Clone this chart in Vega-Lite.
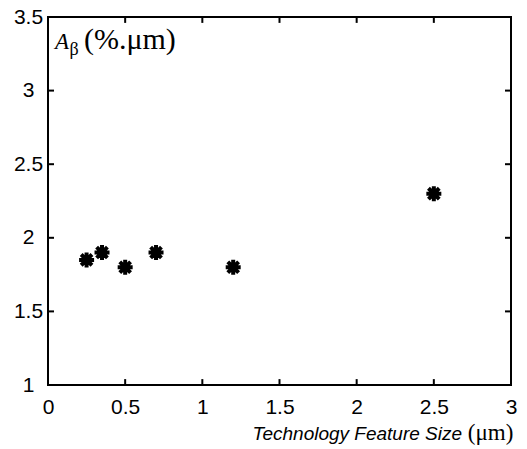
{
  "$schema": "https://vega.github.io/schema/vega-lite/v6.json",
  "width": 463,
  "height": 368,
  "autosize": {"type": "none"},
  "padding": {"left": 48, "top": 17, "right": 16, "bottom": 64},
  "background": "white",
  "config": {
    "view": {"stroke": "black", "strokeWidth": 2},
    "axis": {"grid": false, "domain": false, "ticks": false, "labelColor": "black", "labelFont": "Liberation Sans", "labelFontSize": 21, "title": null}
  },
  "datasets": {
    "pts": [
      {"size": 0.25, "a": 1.85},
      {"size": 0.35, "a": 1.9},
      {"size": 0.5, "a": 1.8},
      {"size": 0.7, "a": 1.9},
      {"size": 1.2, "a": 1.8},
      {"size": 2.5, "a": 2.3}
    ],
    "ticks": [
      {"x": 0.5, "x2": 0.5, "y": 1, "y2": 1.04},
      {"x": 1, "x2": 1, "y": 1, "y2": 1.04},
      {"x": 1.5, "x2": 1.5, "y": 1, "y2": 1.04},
      {"x": 2, "x2": 2, "y": 1, "y2": 1.04},
      {"x": 2.5, "x2": 2.5, "y": 1, "y2": 1.04},
      {"x": 0.5, "x2": 0.5, "y": 3.46, "y2": 3.5},
      {"x": 1, "x2": 1, "y": 3.46, "y2": 3.5},
      {"x": 1.5, "x2": 1.5, "y": 3.46, "y2": 3.5},
      {"x": 2, "x2": 2, "y": 3.46, "y2": 3.5},
      {"x": 2.5, "x2": 2.5, "y": 3.46, "y2": 3.5},
      {"x": 0, "x2": 0.039, "y": 1.5, "y2": 1.5},
      {"x": 0, "x2": 0.039, "y": 2, "y2": 2},
      {"x": 0, "x2": 0.039, "y": 2.5, "y2": 2.5},
      {"x": 0, "x2": 0.039, "y": 3, "y2": 3},
      {"x": 2.961, "x2": 3, "y": 1.5, "y2": 1.5},
      {"x": 2.961, "x2": 3, "y": 2, "y2": 2},
      {"x": 2.961, "x2": 3, "y": 2.5, "y2": 2.5},
      {"x": 2.961, "x2": 3, "y": 3, "y2": 3}
    ]
  },
  "layer": [
    {
      "data": {"name": "pts"},
      "mark": {"type": "point", "shape": "M0,-1L0,1M-1,0L1,0M-0.72,-0.72L0.72,0.72M-0.72,0.72L0.72,-0.72", "filled": false, "stroke": "black", "strokeWidth": 4, "size": 225, "opacity": 1},
      "encoding": {
        "x": {"field": "size", "type": "quantitative", "scale": {"domain": [0, 3], "nice": false, "zero": false},
          "axis": {"orient": "bottom", "values": [0, 0.5, 1, 1.5, 2, 2.5, 3], "labelPadding": 11, "labelFlush": false, "format": "~g"}},
        "y": {"field": "a", "type": "quantitative", "scale": {"domain": [1, 3.5], "nice": false, "zero": false},
          "axis": {"orient": "left", "values": [1, 1.5, 2, 2.5, 3, 3.5], "labelPadding": 20, "labelAlign": "center", "labelFlush": false, "format": "~g"}}
      }
    },
    {
      "data": {"name": "ticks"},
      "mark": {"type": "rule", "color": "black", "strokeWidth": 2},
      "encoding": {
        "x": {"field": "x", "type": "quantitative"},
        "x2": {"field": "x2"},
        "y": {"field": "y", "type": "quantitative"},
        "y2": {"field": "y2"}
      }
    },
    {
      "data": {"values": [
        {"x": 0.045, "y": 3.283, "t": "A"}
      ]},
      "mark": {"type": "text", "font": "Liberation Serif", "fontStyle": "italic", "fontSize": 23, "align": "left", "baseline": "alphabetic", "color": "black"},
      "encoding": {"x": {"field": "x", "type": "quantitative"}, "y": {"field": "y", "type": "quantitative"}, "text": {"field": "t"}}
    },
    {
      "data": {"values": [
        {"x": 0.14, "y": 3.24, "t": "β"}
      ]},
      "mark": {"type": "text", "font": "Liberation Serif", "fontSize": 18, "align": "left", "baseline": "alphabetic", "color": "black"},
      "encoding": {"x": {"field": "x", "type": "quantitative"}, "y": {"field": "y", "type": "quantitative"}, "text": {"field": "t"}}
    },
    {
      "data": {"values": [
        {"x": 0.233, "y": 3.283, "t": "(%.μm)"}
      ]},
      "mark": {"type": "text", "font": "Liberation Serif", "fontSize": 30, "align": "left", "baseline": "alphabetic", "color": "black"},
      "encoding": {"x": {"field": "x", "type": "quantitative"}, "y": {"field": "y", "type": "quantitative"}, "text": {"field": "t"}}
    },
    {
      "data": {"values": [
        {"x": 2.683, "y": 0.626, "t": "Technology Feature Size"}
      ]},
      "mark": {"type": "text", "font": "Liberation Sans", "fontStyle": "italic", "fontSize": 19, "align": "right", "baseline": "alphabetic", "color": "black"},
      "encoding": {"x": {"field": "x", "type": "quantitative"}, "y": {"field": "y", "type": "quantitative"}, "text": {"field": "t"}}
    },
    {
      "data": {"values": [
        {"x": 2.72, "y": 0.626, "t": "(μm)"}
      ]},
      "mark": {"type": "text", "font": "Liberation Serif", "fontSize": 23, "align": "left", "baseline": "alphabetic", "color": "black"},
      "encoding": {"x": {"field": "x", "type": "quantitative"}, "y": {"field": "y", "type": "quantitative"}, "text": {"field": "t"}}
    }
  ]
}
